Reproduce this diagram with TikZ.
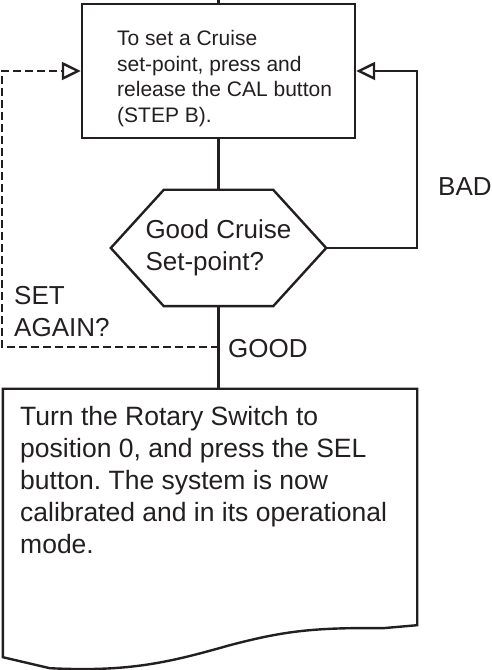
\documentclass[tikz,border=0pt]{standalone}
\usepackage{fontspec}
\setmainfont{Liberation Sans}
\usetikzlibrary{arrows.meta}
\definecolor{ink}{RGB}{35,31,32}
\frenchspacing

\begin{document}
\begin{tikzpicture}[x=1pt,y=1pt]
    \def\lw{2.4pt}

    \tikzstyle{line}=[draw=ink, line width=\lw, line join=miter]
    \tikzstyle{flow}=[line, -{Triangle[open, length=19pt, width=18pt]}]
    \tikzstyle{retryline}=[dash pattern=on 8pt off 4pt]
    \tikzstyle{stepbox}=[line, minimum width=273pt, minimum height=134pt, inner sep=0pt]
    \tikzstyle{testbox}=[text=ink, minimum width=215pt, minimum height=116pt, inner sep=0pt, align=left, font=\fontsize{26}{32}\selectfont]
    \tikzstyle{docbox}=[minimum width=414pt, minimum height=236pt, inner sep=0pt]
    \tikzstyle{small}=[text=ink, inner sep=0pt, align=left, font=\fontsize{21}{25.7}\selectfont]
    \tikzstyle{big}=[text=ink, inner sep=0pt, align=left, font=\fontsize{26}{32}\selectfont]

    \useasboundingbox (0,0) rectangle (491,670);

    \node[stepbox] (setbox) at (218.5,599) {};
    \node[small, anchor=north west] (settext) at (117,640) {To set a Cruise\\set-point, press and\\release the CAL button\\(STEP B).};

    \node[testbox] (check) at (218.5,422) {Good Cruise\\Set-point?};

    \node[docbox] (calbox) at (210,163) {};
    \node[big, font=\fontsize{26.5}{32}\selectfont, anchor=north west] (caltext) at (20,264) {Turn the Rotary Switch to\\position 0, and press the SEL\\button. The system is now\\calibrated and in its operational\\mode.};

    \node[big, anchor=base west] (bad) at (438,474) {BAD};
    \node[big, anchor=base west] (good) at (228,312) {GOOD};
    \node[big, anchor=north west] (again) at (14,384) {SET\\AGAIN?};

    \coordinate (entry) at (218.5,670);
    \coordinate (retry) at (218.5,323);

    % hexagon and document outline
    \draw[line] (check.west) -- ([xshift=53pt]check.north west) -- ([xshift=-53pt]check.north east)
        -- (check.east) -- ([xshift=-53pt]check.south east) -- ([xshift=53pt]check.south west) -- cycle;
    \draw[line, shift={(calbox.south west)}] (calbox.south west) |- (calbox.north east) -- (calbox.south east)
        -- (380,-3) .. controls (307,-2) and (277,-7) .. (227,-20)
        .. controls (167,-37) and (127,-47) .. (47,-43) -- (0,-32) -- cycle;

    \draw [line] (entry) -- (setbox.north);
    \draw [line] (setbox.south) -- (check.north);
    \draw [line] (check.south) -- (check.south |- calbox.north);
    \draw [flow] (check.east) -| ([xshift=61pt]setbox.east) -- (setbox.east);
    \draw [flow, retryline] (retry) -| ([xshift=-79pt]setbox.west) -- (setbox.west);

\end{tikzpicture}
\end{document}
